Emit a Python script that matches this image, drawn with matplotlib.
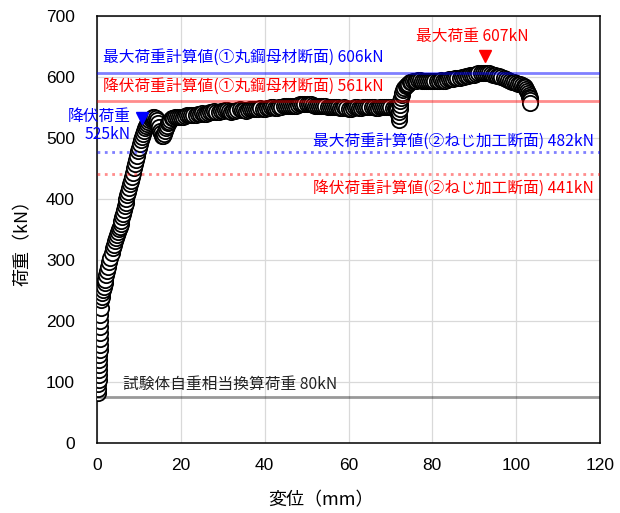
import matplotlib.pyplot as plt

plt.rcParams['font.family'] = ['Noto Sans CJK JP', 'DejaVu Sans']

# load-displacement record
disp = [0.2, 0.3, 0.3, 0.4, 0.4, 0.4, 0.5, 0.5, 0.5, 0.6, 0.6, 0.6, 0.7, 0.7, 0.8, 0.8, 0.9, 1.0,
        1.1, 1.3, 1.5, 1.6, 1.8, 2.0, 2.2, 2.4, 2.6, 2.9, 3.2, 3.5, 3.8, 4.0, 4.3, 4.5, 4.8, 5.0,
        5.2, 5.4, 5.6, 5.8, 6.0, 6.2, 6.4, 6.6, 6.8, 7.0, 7.2, 7.4, 7.6, 7.8, 8.0, 8.3, 8.5, 8.8,
        9.0, 9.3, 9.5, 9.8, 10.0, 10.2, 10.5, 10.7, 11.0, 11.2, 11.5, 11.7, 12.0, 12.2, 12.5,
        12.8, 13.1, 13.4, 13.7, 14.0, 14.3, 14.6, 14.9, 15.1, 15.3, 15.5, 15.7, 15.9, 16.2,
        16.4, 16.7, 16.9, 17.2, 17.5, 17.8, 18.2, 18.6, 19.0, 19.5,
        20, 20.5, 21, 21.5, 22, 22.5, 23, 23.5, 24, 24.5, 25, 25.5, 26, 26.5, 27, 27.5, 28,
        28.5, 29, 29.5, 30, 30.5, 31, 31.5, 32, 32.5, 33, 33.5, 34, 34.5, 35, 35.5, 36, 36.5,
        37, 37.5, 38, 38.5, 39, 39.5, 40, 40.5, 41, 41.5, 42, 42.5, 43, 43.5, 44, 44.5, 45,
        45.5, 46, 46.5, 47, 47.5, 48, 48.5, 49, 49.5, 50, 50.5, 51, 51.5, 52, 52.5, 53, 53.5,
        54, 54.5, 55, 55.5, 56, 56.5, 57, 57.5, 58, 58.5, 59, 59.5, 60, 60.5, 61, 61.5, 62,
        62.5, 63, 63.5, 64, 64.5, 65, 65.5, 66, 66.5, 67, 67.5, 68, 68.5, 69, 69.5, 70, 70.5,
        71, 71.3, 71.6, 71.8,
        72.0, 72.0, 72.1, 72.2, 72.3, 72.4, 72.5, 72.7, 72.8, 73.0, 73.3, 73.6, 73.9, 74.2,
        74.6, 75.0, 75.4, 75.8, 76.2, 76.6, 77, 77.5, 78, 78.5, 79, 79.5, 80, 80.5, 81, 81.5,
        82, 82.5, 83, 83.5, 84, 84.5, 85, 85.5, 86, 86.5, 87, 87.5, 88, 88.5, 89, 89.5, 90,
        90.5, 91, 91.5, 92, 92.5, 93, 93.5, 94, 94.5, 95, 95.5, 96, 96.5, 97, 97.5, 98, 98.5,
        99, 99.5, 100, 100.5, 101, 101.4, 101.8, 102.1, 102.4, 102.6, 102.8, 103.0, 103.1,
        103.2, 103.3, 103.4]
load = [82, 88, 96, 104, 112, 120, 128, 136, 144, 152, 160, 170, 180, 190, 200, 210, 222, 234,
        240, 246, 251, 256, 262, 268, 275, 282, 289, 296, 304, 312, 319, 325, 331, 336, 341,
        346, 350, 354, 359, 364, 370, 376, 382, 388, 394, 400, 406, 412, 418, 424, 430, 436,
        443, 450, 457, 464, 471, 478, 484, 490, 496, 502, 507, 512, 516, 520, 523, 526, 529,
        531, 533, 534, 535, 533, 530, 524, 518, 512, 508, 504, 503, 506, 511, 516, 520, 524,
        527, 530, 532, 533, 534, 534, 535,
        535, 534, 536, 537, 538, 537, 537, 538, 539, 540, 541, 540, 540, 541, 542, 543, 544,
        543, 543, 544, 545, 546, 546, 544, 543, 544, 545, 546, 547, 546, 546, 545, 546, 547,
        548, 548, 547, 548, 549, 548, 548, 549, 549, 550, 550, 549, 549, 550, 551, 552, 552,
        553, 553, 552, 552, 553, 554, 555, 555, 556, 556, 556, 555, 554, 553, 552, 552, 553,
        553, 552, 551, 550, 550, 551, 551, 550, 549, 549, 550, 549, 548, 548, 549, 550, 550,
        549, 549, 550, 550, 551, 551, 550, 550, 549, 549, 550, 550, 551, 551, 550, 550, 549,
        549, 548, 546, 540,
        530, 536, 542, 548, 554, 560, 565, 570, 574, 578, 582, 585, 587, 589,
        591, 592, 593, 594, 594, 595, 595, 594, 594, 593, 593, 594, 594, 593, 593, 594,
        595, 594, 594, 595, 596, 596, 597, 598, 598, 599, 600, 600, 601, 602, 603, 603, 604,
        605, 606, 606, 607, 607, 606, 606, 605, 604, 603, 602, 601, 600, 598, 597, 595, 594,
        592, 591, 590, 589, 588, 587, 585, 583, 580, 577, 574, 571, 568,
        565, 562, 557]

# reference levels (kN) and their captions
levels = [606, 561, 477, 441, 76]
captions = ['最大荷重計算値(①丸鋼母材断面) 606kN',
            '降伏荷重計算値(①丸鋼母材断面) 561kN',
            '最大荷重計算値(②ねじ加工断面) 482kN',
            '降伏荷重計算値(②ねじ加工断面) 441kN',
            '試験体自重相当換算荷重 80kN']

yield_pt = (10.7, 532)
max_pt = (92.6, 634)

fig = plt.figure(figsize=(6.2, 5.13), dpi=100)
ax = fig.add_axes([0.1565, 0.1365, 0.8112, 0.8323])

ax.plot(disp, load, 'o', ms=11, mfc='white', mec='black', mew=1.3, zorder=3)

colors = ['#0000ff', '#ff0000', '#0000ff', '#ff0000', '#000000']
styles = ['-', '-', ':', ':', '-']
alphas = [0.5, 0.45, 0.5, 0.45, 0.4]
for lv, c, ls, a in zip(levels, colors, styles, alphas):
    ax.axhline(lv, color=c, ls=ls, lw=2.0, alpha=a, zorder=4)

fs = 11.3
ax.text(1.4, 633, captions[0], color='#0000ff', fontsize=fs, va='center', ha='left')
ax.text(1.4, 584, captions[1], color='#ff0000', fontsize=fs, va='center', ha='left')
ax.text(118.5, 495, captions[2], color='#0000ff', fontsize=fs, va='center', ha='right')
ax.text(118.5, 417, captions[3], color='#ff0000', fontsize=fs, va='center', ha='right')
ax.text(6.2, 96, captions[4], color='#222222', fontsize=fs, va='center', ha='left')

ax.plot(*yield_pt, 'v', color='#0000ff', ms=8, zorder=5)
ax.text(8.0, 535, '降伏荷重', color='#0000ff', fontsize=fs, va='center', ha='right')
ax.text(8.0, 506, '525kN', color='#0000ff', fontsize=fs, va='center', ha='right')
ax.plot(*max_pt, 'v', color='#ff0000', ms=8, zorder=5)
ax.text(89.5, 667, '最大荷重 607kN', color='#ff0000', fontsize=fs, va='center', ha='center')

ax.set_xlim(0, 120)
ax.set_ylim(0, 700)
ax.set_xticks(range(0, 121, 20))
ax.set_yticks(range(0, 701, 100))
ax.grid(color='#d9d9d9', lw=0.9, zorder=0)
ax.set_axisbelow(True)
ax.tick_params(length=0, labelsize=12.5)
ax.tick_params(axis='y', pad=16)
ax.tick_params(axis='x', pad=11)
for lab in ax.get_xticklabels() + ax.get_yticklabels():
    lab.set_family(['Liberation Sans', 'DejaVu Sans'])
for sp in ax.spines.values():
    sp.set_color('black')
    sp.set_linewidth(1.1)

ax.set_xlabel('変位（mm）', fontsize=13)
ax.set_ylabel('荷重（kN）', fontsize=13)
ax.xaxis.set_label_coords(0.445, -0.112)
ax.yaxis.set_label_coords(-0.13, 0.48)

fig.savefig('out.png', dpi=100)
